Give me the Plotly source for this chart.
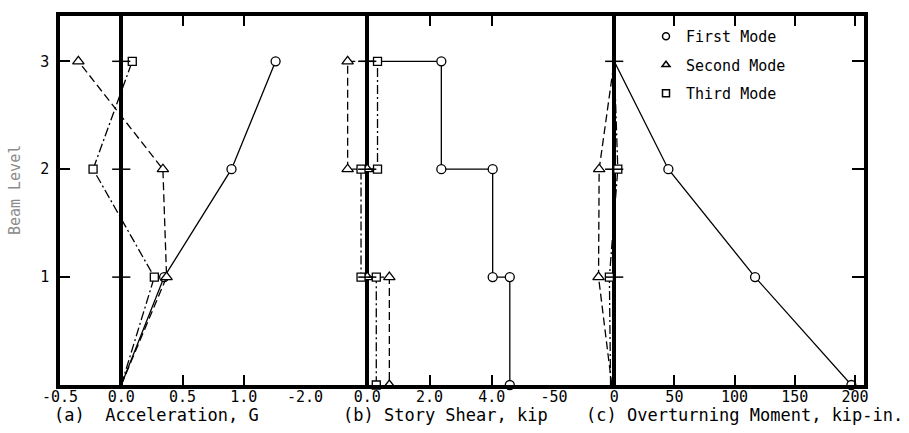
import plotly.graph_objects as go

# Floor levels (0 = base, 3 = roof)
levels = [0, 1, 2, 3]
mode_names = ["First Mode", "Second Mode", "Third Mode"]

# (a) Floor acceleration, G, at levels 0..3
accel_first = [0.0, 0.35, 0.90, 1.26]
accel_second = [0.0, 0.37, 0.34, -0.35]
accel_third = [0.0, 0.27, -0.23, 0.09]

# (b) Story shear, kip, for stories 1..3
shear_first = [4.58, 4.03, 2.38]
shear_second = [0.71, 0.0, -0.63]
shear_third = [0.29, -0.20, 0.33]

# (c) Overturning moment, kip-in., at levels 0..3
moment_first = [197, 117, 45, 0]
moment_second = [-2, -13, -12.5, 0]
moment_third = [-3, -4, 3, 0]

# Axis ticks for each panel
accel_ticks = [-0.5, 0.0, 0.5, 1.0, 1.5]
accel_labels = ["-0.5", "0.0", "0.5", "1.0", ""]
shear_ticks = [-2.0, 0.0, 2.0, 4.0, 6.0]
shear_labels = ["-2.0", "0.0", "2.0", "4.0", ""]
moment_ticks = [-50, 0, 50, 100, 150, 200]
moment_labels = ["-50", "0", "50", "100", "150", "200"]
level_ticks = [1, 2, 3]
level_labels = ["1", "2", "3"]

FONT = "DejaVu Sans Mono"
INK = "black"

styles = [
    dict(dash="solid", symbol="circle", size=9),
    dict(dash="8px,4px", symbol="triangle-up", size=10),
    dict(dash="9px,3px,2px,3px", symbol="square", size=8),
]


def step_profile(shears):
    """Shear diagram walked down from the roof: a jump at each level,
    then a constant run through the story below it."""
    xs, ys = [0.0], [levels[-1]]
    for story in (3, 2, 1):
        v = shears[story - 1]
        xs += [v, v]
        ys += [story, story - 1]
    return xs, ys


fig = go.Figure()


def add_mode(xs, ys, mark_x, mark_y, style, axes):
    xa, ya = axes
    fig.add_trace(go.Scatter(
        x=xs, y=ys, mode="lines", xaxis=xa, yaxis=ya, showlegend=False,
        line=dict(color=INK, width=1.3, dash=style["dash"]),
        cliponaxis=False, hoverinfo="skip"))
    fig.add_trace(go.Scatter(
        x=mark_x, y=mark_y, mode="markers", xaxis=xa, yaxis=ya, showlegend=False,
        marker=dict(symbol=style["symbol"], size=style["size"], color="white",
                    line=dict(color=INK, width=1.3)),
        cliponaxis=False))


# (a) Acceleration: markers at the upper floors only
for vals, st in zip([accel_first, accel_second, accel_third], styles):
    add_mode(vals, levels, vals[1:], levels[1:], st, ("x", "y"))

# (b) Story shear step diagrams
for vals, st in zip([shear_first, shear_second, shear_third], styles):
    xs, ys = step_profile(vals)
    add_mode(xs, ys, xs[1:], ys[1:], st, ("x2", "y2"))

# (c) Overturning moment: markers at the floors, and at the base for the
# first mode (the higher-mode base values sit on the zero line)
moment_marks = [(0, 3), (1, 3), (1, 3)]
for vals, st, (lo, hi) in zip([moment_first, moment_second, moment_third], styles, moment_marks):
    add_mode(vals, levels, vals[lo:hi], levels[lo:hi], st, ("x3", "y3"))

# Level ticks crossing each zero line
for xa, ya in [("x", "y"), ("x2", "y2"), ("x3", "y3")]:
    fig.add_trace(go.Scatter(
        x=[0] * len(level_ticks), y=level_ticks, mode="markers", xaxis=xa, yaxis=ya,
        showlegend=False, hoverinfo="skip",
        marker=dict(symbol="line-ew", size=13, line=dict(color=INK, width=1.5))))

# Legend entries (symbols only)
for name, st in zip(mode_names, styles):
    fig.add_trace(go.Scatter(
        x=[None], y=[None], mode="markers", name=name, legendgroup=name,
        xaxis="x3", yaxis="y3",
        marker=dict(symbol=st["symbol"], size=7, color="white",
                    line=dict(color=INK, width=1.5))))

d1 = 245 / 804
d2 = 494 / 804

common_x = dict(
    ticks="inside", ticklen=10, tickwidth=1.5, tickcolor=INK,
    showline=True, linewidth=3.5, linecolor=INK, mirror="ticks",
    zeroline=True, zerolinewidth=4, zerolinecolor=INK,
    showgrid=False, ticklabelstandoff=-5,
    tickfont=dict(family=FONT, size=15, color=INK),
)
yrange = [0, 3.42]

fig.update_layout(
    width=909, height=433,
    margin=dict(l=60, r=45, t=12, b=48),
    paper_bgcolor="white", plot_bgcolor="white",
    font=dict(family=FONT, color=INK),
    xaxis=dict(domain=[0, d1], range=[-0.5, 1.5], anchor="y",
               tickvals=accel_ticks, ticktext=accel_labels, **common_x),
    xaxis2=dict(domain=[d1, d2], range=[-2.0, 6.0], anchor="y2",
                tickvals=shear_ticks, ticktext=shear_labels, **common_x),
    xaxis3=dict(domain=[d2, 1], range=[-50, 207.5], anchor="y3",
                tickvals=moment_ticks, ticktext=moment_labels, **common_x),
    yaxis=dict(anchor="x", range=yrange, tickvals=level_ticks, ticktext=level_labels,
               ticks="inside", ticklen=10, tickwidth=1.5, tickcolor=INK,
               showline=True, linewidth=3.5, linecolor=INK,
               zeroline=False, showgrid=False, ticklabelstandoff=4,
               tickfont=dict(family=FONT, size=15, color=INK)),
    yaxis2=dict(anchor="x2", range=yrange, showline=False, ticks="",
                showticklabels=False, zeroline=False, showgrid=False),
    yaxis3=dict(anchor="x3", side="right", range=yrange, tickvals=level_ticks,
                ticks="inside", ticklen=12, tickwidth=1.5, tickcolor=INK,
                showticklabels=False, showline=True, linewidth=3.5, linecolor=INK,
                zeroline=False, showgrid=False),
    showlegend=True,
    legend=dict(x=(646 - 60) / 804, y=1 - (16 - 12) / 373, xanchor="left", yanchor="top",
                bgcolor="rgba(0,0,0,0)", borderwidth=0, tracegroupgap=6,
                itemwidth=30, font=dict(family=FONT, size=15, color=INK)),
)

title_font = dict(family=FONT, size=17, color=INK)
y_title = -(415 - 385) / 373
for text, px in [("(a)  Acceleration, G", 156),
                 ("(b) Story Shear, kip", 445),
                 ("(c) Overturning Moment, kip-in.", 744)]:
    fig.add_annotation(text=text, xref="paper", yref="paper",
                       x=(px - 60) / 804, y=y_title, xanchor="center", yanchor="middle",
                       showarrow=False, font=title_font)

fig.add_annotation(text="Beam Level", xref="paper", yref="paper",
                   x=(15 - 60) / 804, y=(385 - 188) / 373, textangle=-90,
                   xanchor="center", yanchor="middle", showarrow=False,
                   font=dict(family=FONT, size=15, color="#8a8a8a"))

fig.write_html("out.html")
